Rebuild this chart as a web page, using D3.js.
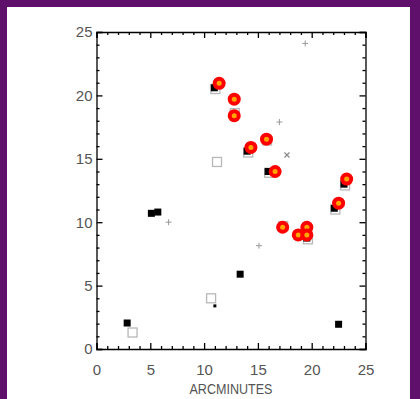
<!DOCTYPE html>
<html>
<head>
<meta charset="utf-8">
<script src="https://cdn.jsdelivr.net/npm/d3@7"></script>
<style>
  html, body { margin: 0; padding: 0; background: #fff; }
  svg { display: block; }
  .axis path, .axis line { stroke: #000; stroke-width: 1.3; }
  .axis text { font-family: "Liberation Sans", Arial, sans-serif; font-size: 15px; fill: #555; }
</style>
</head>
<body>
<div id="chart"></div>
<script>
// red circled sources
const redX = [11.4, 12.8, 12.8, 14.35, 15.8, 16.6, 23.25, 17.3, 18.75, 19.55, 19.55, 22.5];
const redY = [20.95, 19.7, 18.4, 15.9, 16.55, 14.0, 13.4, 9.6, 9.0, 9.6, 9.0, 11.5];

// filled black squares
const blackX = [10.95, 14.0, 15.95, 23.0, 22.1, 19.55, 13.35, 22.5, 2.85, 5.1, 5.7];
const blackY = [20.6, 15.6, 14.0, 13.0, 11.1, 8.75, 5.9, 1.95, 2.05, 10.7, 10.8];

// small black square
const smallX = [11.0];
const smallY = [3.4];

// open grey squares
const openX = [11.05, 14.1, 16.05, 23.1, 22.2, 19.65, 12.85, 17.35, 15.85, 11.2, 3.35, 10.65];
const openY = [20.5, 15.5, 13.9, 12.9, 11.0, 8.65, 18.6, 9.7, 16.45, 14.75, 1.3, 4.0];

// grey plus signs and cross
const plusX = [19.4, 17.0, 6.7, 15.1];
const plusY = [24.1, 17.9, 10.0, 8.15];
const crossX = [17.7];
const crossY = [15.3];

const majorTicks = [0, 5, 10, 15, 20, 25];
const minorTicks = d3.range(0, 26).filter(v => v % 5 !== 0);

const W = 420, H = 399;
const svg = d3.select("#chart").append("svg").attr("width", W).attr("height", H);

// purple frame
svg.append("rect").attr("x", 0).attr("y", 0).attr("width", W).attr("height", 7).attr("fill", "#5f106b");
svg.append("rect").attr("x", 0).attr("y", 0).attr("width", 7).attr("height", H).attr("fill", "#5f106b");
svg.append("rect").attr("x", 410).attr("y", 0).attr("width", 10).attr("height", H).attr("fill", "#5f106b");

const x = d3.scaleLinear().domain([0, 25]).range([96.5, 365.5]);
const y = d3.scaleLinear().domain([0, 25]).range([349, 32]);

function drawAxis(axisFn, scale, transform, showLabels, pad) {
    svg.append("g").attr("class", "axis").attr("transform", transform)
        .call(axisFn(scale).tickValues(majorTicks).tickSize(-6).tickPadding(pad)
            .tickFormat(showLabels ? d3.format("d") : ""));
    svg.append("g").attr("class", "axis minor").attr("transform", transform)
        .call(axisFn(scale).tickValues(minorTicks).tickSize(-3).tickFormat(""))
        .select(".domain").remove();
}

drawAxis(d3.axisBottom, x, `translate(0,${y(0)})`, true, 15);
drawAxis(d3.axisTop, x, `translate(0,${y(25)})`, false, 3);
drawAxis(d3.axisLeft, y, `translate(${x(0)},0)`, true, 4);
drawAxis(d3.axisRight, y, `translate(${x(25)},0)`, false, 3);

svg.selectAll(".axis .domain").attr("stroke-width", 1.5);

svg.append("text")
    .attr("x", (x(0) + x(25)) / 2)
    .attr("y", 394)
    .attr("text-anchor", "middle")
    .attr("textLength", 83)
    .attr("lengthAdjust", "spacingAndGlyphs")
    .style("font-family", "Liberation Sans, Arial, sans-serif")
    .style("font-size", "15px")
    .style("fill", "#555")
    .text("ARCMINUTES");

const plot = svg.append("g");

// grey plus signs
plot.selectAll(".plus").data(plusX.map((d, i) => [d, plusY[i]])).enter()
    .append("path").attr("class", "plus")
    .attr("transform", d => `translate(${x(d[0])},${y(d[1])})`)
    .attr("d", "M-3,0H3M0,-3V3")
    .attr("stroke", "#999").attr("stroke-width", 1);

plot.selectAll(".cross").data(crossX.map((d, i) => [d, crossY[i]])).enter()
    .append("path").attr("class", "cross")
    .attr("transform", d => `translate(${x(d[0])},${y(d[1])})`)
    .attr("d", "M-2.5,-2.5L2.5,2.5M-2.5,2.5L2.5,-2.5")
    .attr("stroke", "#888").attr("stroke-width", 1.2);

// open grey squares
plot.selectAll(".open").data(openX.map((d, i) => [d, openY[i]])).enter()
    .append("rect").attr("class", "open")
    .attr("x", d => x(d[0]) - 4.5).attr("y", d => y(d[1]) - 4.5)
    .attr("width", 9).attr("height", 9)
    .attr("fill", "none").attr("stroke", "#b8b8b8").attr("stroke-width", 1.3);

// black squares
plot.selectAll(".black").data(blackX.map((d, i) => [d, blackY[i]])).enter()
    .append("rect").attr("class", "black")
    .attr("x", d => x(d[0]) - 3.5).attr("y", d => y(d[1]) - 3.5)
    .attr("width", 7).attr("height", 7)
    .attr("fill", "#000");

plot.selectAll(".small").data(smallX.map((d, i) => [d, smallY[i]])).enter()
    .append("rect").attr("class", "small")
    .attr("x", d => x(d[0]) - 1.5).attr("y", d => y(d[1]) - 1.5)
    .attr("width", 3).attr("height", 3)
    .attr("fill", "#000");

// red circles with orange centres
const reds = plot.selectAll(".red").data(redX.map((d, i) => [d, redY[i]])).enter()
    .append("g").attr("class", "red")
    .attr("transform", d => `translate(${x(d[0])},${y(d[1])})`);
reds.append("circle").attr("r", 6.5).attr("fill", "#ff0000");
reds.append("circle").attr("r", 2.5).attr("fill", "#ffa500");
</script>
</body>
</html>
